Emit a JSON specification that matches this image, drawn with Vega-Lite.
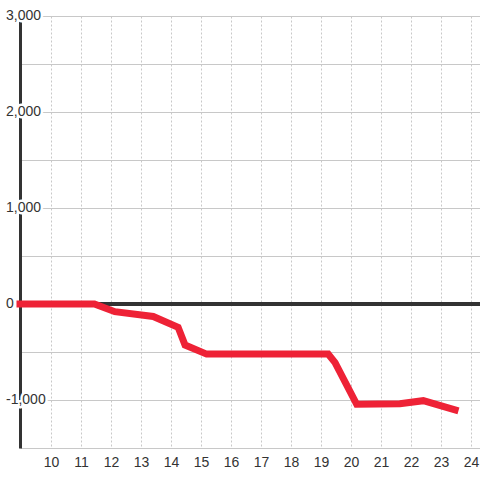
{
  "$schema": "https://vega.github.io/schema/vega-lite/v6.json",
  "width": 460,
  "height": 432,
  "autosize": {"type": "none"},
  "padding": {"left": 20, "top": 16, "right": 0, "bottom": 32},
  "background": "#ffffff",
  "config": {
    "view": {"stroke": null},
    "font": "Liberation Sans",
    "axis": {"labelFont": "Liberation Sans", "labelFontSize": 14, "labelColor": "#333333", "titleFontSize": 0},
    "axisX": {
      "title": null,
      "domain": false,
      "ticks": false,
      "tickSize": 0,
      "labelPadding": 7,
      "labelFlush": false,
      "labelOverlap": false,
      "grid": true,
      "gridColor": "#c8c8c8",
      "gridDash": [2, 2],
      "gridWidth": 1
    },
    "axisY": {
      "title": null,
      "labels": false,
      "domain": true,
      "domainColor": "#333333",
      "domainWidth": 3,
      "ticks": false,
      "tickSize": 0,
      "grid": true,
      "gridColor": "#c8c8c8",
      "gridWidth": 1
    }
  },
  "layer": [
    {
      "data": {
        "values": [
          {"x": 8.97, "y": 0},
          {"x": 11.45, "y": 0},
          {"x": 12.13, "y": -80},
          {"x": 13.41, "y": -130},
          {"x": 14.24, "y": -243},
          {"x": 14.47, "y": -427},
          {"x": 15.19, "y": -522},
          {"x": 19.24, "y": -522},
          {"x": 19.47, "y": -611},
          {"x": 20.19, "y": -1045},
          {"x": 21.63, "y": -1040},
          {"x": 22.41, "y": -1007},
          {"x": 23.47, "y": -1104}
        ]
      },
      "layer": [
        {
          "mark": {"type": "rule", "color": "#333333", "strokeWidth": 3},
          "encoding": {
            "y": {"datum": 0, "type": "quantitative", "scale": {"domain": [-1500, 3000], "nice": false, "zero": false}, "axis": {"values": [-1500, -1000, -500, 0, 500, 1000, 1500, 2000, 2500, 3000]}}
          }
        },
        {
          "data": {"values": [{"v": -1000, "lab": "-1,000"}, {"v": 0, "lab": "0"}, {"v": 1000, "lab": "1,000"}, {"v": 2000, "lab": "2,000"}, {"v": 3000, "lab": "3,000"}]},
          "mark": {"type": "text", "align": "left", "baseline": "middle", "dx": -14, "font": "Liberation Sans", "fontSize": 14, "color": "#ffffff", "stroke": "#ffffff", "strokeWidth": 5, "strokeJoin": "round", "clip": false},
          "encoding": {
            "x": {"datum": 8.97, "type": "quantitative", "scale": {"domain": [8.97, 24.3], "nice": false, "zero": false}, "axis": {"values": [10, 11, 12, 13, 14, 15, 16, 17, 18, 19, 20, 21, 22, 23, 24]}},
            "y": {"field": "v", "type": "quantitative", "axis": {"values": [-1500, -1000, -500, 0, 500, 1000, 1500, 2000, 2500, 3000]}},
            "text": {"field": "lab", "type": "nominal"}
          }
        },
        {
          "data": {"values": [{"v": -1000, "lab": "-1,000"}, {"v": 0, "lab": "0"}, {"v": 1000, "lab": "1,000"}, {"v": 2000, "lab": "2,000"}, {"v": 3000, "lab": "3,000"}]},
          "mark": {"type": "text", "align": "left", "baseline": "middle", "dx": -14, "font": "Liberation Sans", "fontSize": 14, "color": "#333333", "clip": false},
          "encoding": {
            "x": {"datum": 8.97, "type": "quantitative", "axis": {"values": [10, 11, 12, 13, 14, 15, 16, 17, 18, 19, 20, 21, 22, 23, 24]}},
            "y": {"field": "v", "type": "quantitative", "axis": {"values": [-1500, -1000, -500, 0, 500, 1000, 1500, 2000, 2500, 3000]}},
            "text": {"field": "lab", "type": "nominal"}
          }
        },
        {
          "mark": {"type": "line", "color": "#ee2236", "strokeWidth": 7, "strokeJoin": "miter", "strokeCap": "square"},
          "encoding": {
            "x": {"field": "x", "type": "quantitative", "axis": {"values": [10, 11, 12, 13, 14, 15, 16, 17, 18, 19, 20, 21, 22, 23, 24]}},
            "y": {"field": "y", "type": "quantitative", "axis": {"values": [-1500, -1000, -500, 0, 500, 1000, 1500, 2000, 2500, 3000]}}
          }
        }
      ]
    }
  ]
}
